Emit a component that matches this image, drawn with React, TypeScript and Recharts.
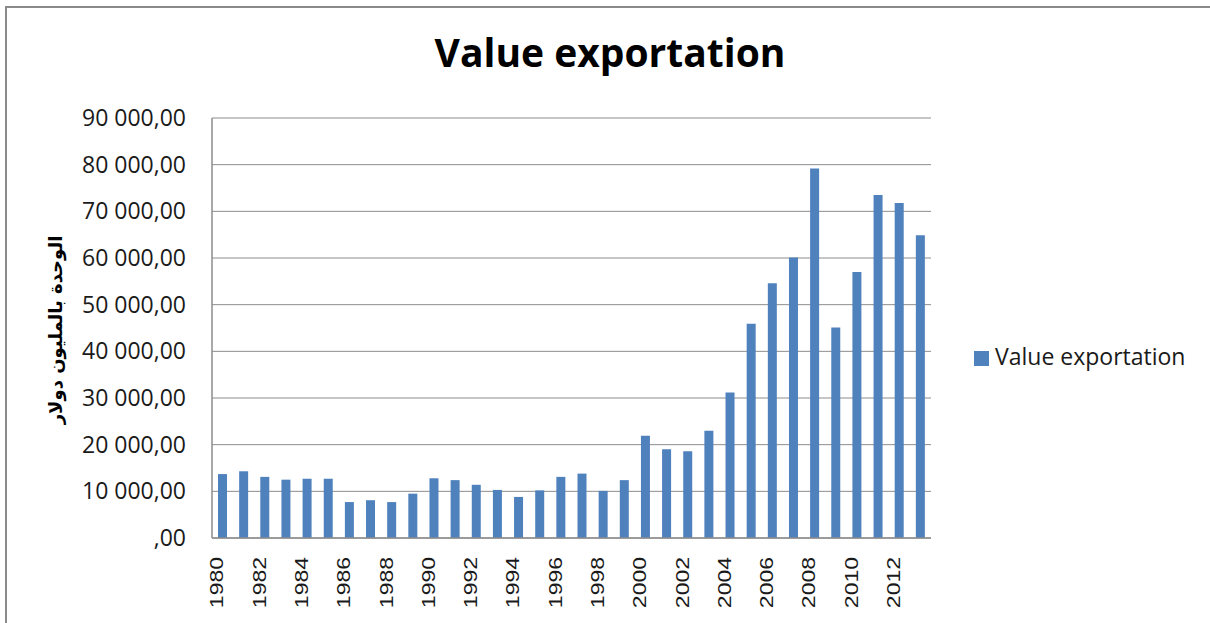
import { BarChart, Bar, XAxis, YAxis, CartesianGrid, Label } from "recharts";

const years = [
  "1980", "1981", "1982", "1983", "1984", "1985", "1986", "1987", "1988", "1989",
  "1990", "1991", "1992", "1993", "1994", "1995", "1996", "1997", "1998", "1999",
  "2000", "2001", "2002", "2003", "2004", "2005", "2006", "2007", "2008", "2009",
  "2010", "2011", "2012", "2013",
];

const exportValues = [
  13700, 14300, 13100, 12500, 12700, 12700, 7700, 8100, 7700, 9500,
  12800, 12400, 11400, 10300, 8800, 10200, 13100, 13800, 10100, 12400,
  21900, 19000, 18600, 23000, 31200, 45900, 54600, 60100, 79200, 45100,
  57000, 73500, 71800, 64900,
];

const yTicks = [0, 10000, 20000, 30000, 40000, 50000, 60000, 70000, 80000, 90000];

const seriesName = "Value exportation";
const titleText = "Value exportation";
const yAxisTitle = "الوحدة بالمليون دولار";

const data = years.map((year, i) => ({ year, value: exportValues[i] }));

const GRID = "#8c8c8c";
const BAR = "#4f81bd";

function formatTick(v: number) {
  const n = Math.round(v);
  const s = n === 0 ? "" : n.toString().replace(/\B(?=(\d{3})+(?!\d))/g, " ");
  return `${s},00`;
}

function YearTick({ x, y, payload }: { x?: number; y?: number; payload?: { value: string } }) {
  return (
    <g transform={`translate(${x},${y})`}>
      <text
        x={-19}
        y={1}
        transform="rotate(-90) scale(1,0.78)"
        textAnchor="end"
        fontFamily="'Liberation Sans', Arial, sans-serif"
        fontSize={23}
        fill="#1a1a1a"
      >
        {payload?.value}
      </text>
    </g>
  );
}

function ArabicTitle(props: { viewBox?: { x: number; y: number; width: number; height: number } }) {
  const vb = props.viewBox ?? { x: 0, y: 0, width: 0, height: 0 };
  const cx = vb.x + 62;
  const cy = vb.y + vb.height / 2 + 2;
  return (
    <text
      x={cx}
      y={cy}
      transform={`rotate(-90 ${cx} ${cy})`}
      textAnchor="middle"
      fontFamily="'DejaVu Sans', sans-serif"
      fontWeight="bold"
      fontSize={18}
      fill="#000"
    >
      {yAxisTitle}
    </text>
  );
}

export default function App() {
  return (
    <div
      style={{
        position: "absolute",
        left: 0,
        top: 0,
        width: 1210,
        height: 623,
        overflow: "hidden",
        background: "#fff",
        fontFamily: "'Open Sans', sans-serif",
      }}
    >
      <div
        style={{
          position: "absolute",
          left: 5,
          top: 6,
          width: 1400,
          height: 800,
          borderLeft: "2px solid #8a8a8a",
          borderTop: "2px solid #8a8a8a",
        }}
      />
      <div
        style={{
          position: "absolute",
          left: 0,
          width: 1220,
          top: 25,
          textAlign: "center",
          fontSize: 39,
          fontWeight: 700,
          color: "#000",
          lineHeight: "normal",
        }}
      >
        {titleText}
      </div>

      <div style={{ position: "absolute", left: 0, top: 0 }}>
        <BarChart
          width={1210}
          height={623}
          data={data}
          margin={{ top: 118, right: 279, bottom: 0, left: 0 }}
          barSize={9}
        >
          <CartesianGrid vertical={false} stroke={GRID} strokeWidth={1} />
          <XAxis
            dataKey="year"
            height={85}
            interval={1}
            tickLine={false}
            tickSize={0}
            tickMargin={0}
            axisLine={{ stroke: GRID, strokeWidth: 1.5 }}
            tick={<YearTick />}
          />
          <YAxis
            width={212}
            domain={[0, 90000]}
            ticks={yTicks}
            tickLine={false}
            tickSize={0}
            tickMargin={26}
            axisLine={{ stroke: GRID, strokeWidth: 1.5 }}
            tickFormatter={formatTick}
            tick={{ fontFamily: "'Open Sans', sans-serif", fontSize: 23, fill: "#1a1a1a" }}
          >
            <Label content={<ArabicTitle />} />
          </YAxis>
          <Bar dataKey="value" name={seriesName} fill={BAR} isAnimationActive={false} />
        </BarChart>
      </div>

      <div
        style={{
          position: "absolute",
          left: 974,
          top: 341,
          display: "flex",
          alignItems: "center",
          fontSize: 23,
          lineHeight: "31px",
          color: "#1a1a1a",
          whiteSpace: "nowrap",
        }}
      >
        <span style={{ display: "inline-block", width: 15, height: 15, background: BAR, marginRight: 6, marginTop: 3 }} />
        <span>{seriesName}</span>
      </div>
    </div>
  );
}
